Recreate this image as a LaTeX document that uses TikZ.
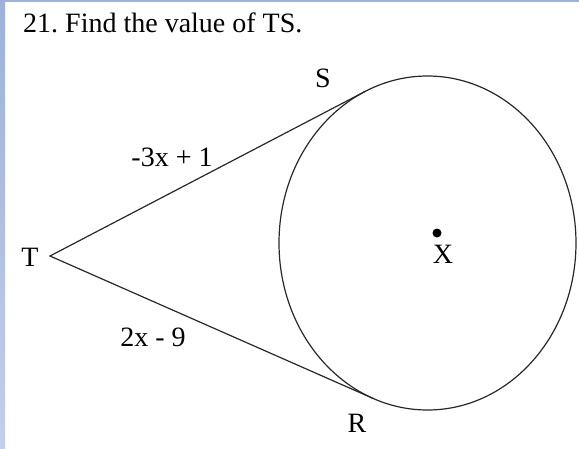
\documentclass[tikz,border=0pt]{standalone}
\usepackage{fontspec}
\setmainfont{Liberation Serif}
\usetikzlibrary{shapes.geometric, positioning}
\definecolor{bar1}{RGB}{157, 177, 217}
\definecolor{bar2}{RGB}{196, 206, 232}
\definecolor{line1}{RGB}{40, 40, 40}
\frenchspacing

\begin{document}
\begin{tikzpicture}[x=1pt, y=-1pt,
  lbl/.style={font=\fontsize{28}{30}\selectfont, inner sep=0pt, anchor=base},
  seg/.style={draw=line1, line width=1.2pt}]
  \useasboundingbox (0,0) rectangle (579,448);
  % page frame
  \shade[top color=bar1, bottom color=bar2] (0,0) rectangle (5,448);
  \fill[bar1] (0,0) rectangle (579,1.5);
  \node[anchor=base west, inner sep=0pt, font=\fontsize{28}{30}\selectfont] (title) at (23,32) {21. Find the value of TS.};

  % circle X and the two tangents from T
  \node[seg, ellipse, minimum width=297pt, minimum height=334pt, inner sep=0pt] (circ) at (427.5,243) {};
  \coordinate (T) at (50,256);
  \coordinate (S) at (365,91.5);
  \coordinate (R) at (373.3,398.5);
  \draw[seg] (S) -- (T) -- (R);
  \node[circle, fill=black, inner sep=0pt, minimum size=9pt] (ctr) at (437,233) {};

  \node[lbl] (labT) at (30,266) {T};
  \node[lbl] (labS) at (323,87) {S};
  \node[lbl] (labR) at (357,432) {R};
  \node[lbl] (labX) at (443,263) {X};
  \node[lbl] (labTS) at (172,166) {-3x + 1};
  \node[lbl] (labTR) at (153,346) {2x - 9};
\end{tikzpicture}
\end{document}
